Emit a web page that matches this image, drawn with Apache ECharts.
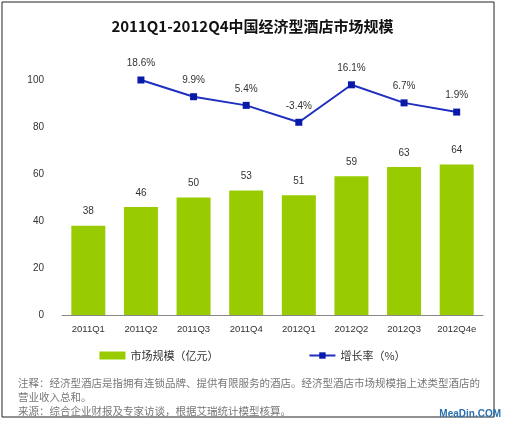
<!DOCTYPE html>
<html><head><meta charset="utf-8">
<script src="https://cdn.jsdelivr.net/npm/echarts@6/dist/echarts.min.js"></script>
<style>html,body{margin:0;background:#fff}#c{width:505px;height:426px}</style>
</head><body><div id="c"></div>
<script>
const categories = ['2011Q1','2011Q2','2011Q3','2011Q4','2012Q1','2012Q2','2012Q3','2012Q4e'];
const marketSize = [38, 46, 50, 53, 51, 59, 63, 64];
const growthRate = [null, 18.6, 9.9, 5.4, -3.4, 16.1, 6.7, 1.9];

const font = '"Noto Sans CJK SC", sans-serif';
let chart = echarts.init(document.getElementById('c'));
chart.setOption({
  animation: false,
  title: {
    text: '2011Q1-2012Q4中国经济型酒店市场规模',
    left: 'center', top: 14,
    textStyle: {fontSize: 15, fontWeight: 'bold', color: '#111', fontFamily: font}
  },
  graphic: [
    {type: 'rect', shape: {x: 2, y: 2, width: 492, height: 415}, style: {fill: 'none', stroke: '#222', lineWidth: 1}},
    {type: 'text', left: 18, top: 376, style: {text: '注释：经济型酒店是指拥有连锁品牌、提供有限服务的酒店。经济型酒店市场规模指上述类型酒店的\n营业收入总和。\n来源：综合企业财报及专家访谈，根据艾瑞统计模型核算。', fill: '#777', font: '10.5px ' + font, lineHeight: 14}},
    {type: 'text', right: 4, top: 409, style: {text: 'MeaDin.COM', fill: '#2a6fb0', font: 'bold 10px sans-serif'}}
  ],
  legend: {
    bottom: 60, itemGap: 90, itemWidth: 26, itemHeight: 8,
    textStyle: {fontSize: 11, color: '#333', fontFamily: font},
    data: [{name: '市场规模（亿元）', icon: 'rect'}, {name: '增长率（%）'}]
  },
  grid: {left: 62, right: 22, top: 80, bottom: 111},
  xAxis: {
    type: 'category', data: categories,
    axisLine: {lineStyle: {color: '#888'}}, axisTick: {show: false},
    axisLabel: {color: '#333', fontSize: 9.5, margin: 9, interval: 0}
  },
  yAxis: [
    {type: 'value', min: 0, max: 100, interval: 20,
     axisLine: {show: false}, axisTick: {show: false}, splitLine: {show: false},
     axisLabel: {color: '#333', fontSize: 10, margin: 18}},
    {type: 'value', min: -103.7, max: 18.6, show: false}
  ],
  series: [
    {name: '市场规模（亿元）', type: 'bar', data: marketSize, barWidth: 34,
     itemStyle: {color: '#99cc00'},
     label: {show: true, position: 'top', distance: 9, color: '#333', fontSize: 10}},
    {name: '增长率（%）', type: 'line', yAxisIndex: 1, data: growthRate,
     symbol: 'rect', symbolSize: 7,
     lineStyle: {color: '#1f2fbf', width: 2}, itemStyle: {color: '#0a1aa8'},
     label: {show: true, position: 'top', distance: 8, color: '#333', fontSize: 10,
             formatter: p => p.value + '%'}}
  ]
});
</script></body></html>
